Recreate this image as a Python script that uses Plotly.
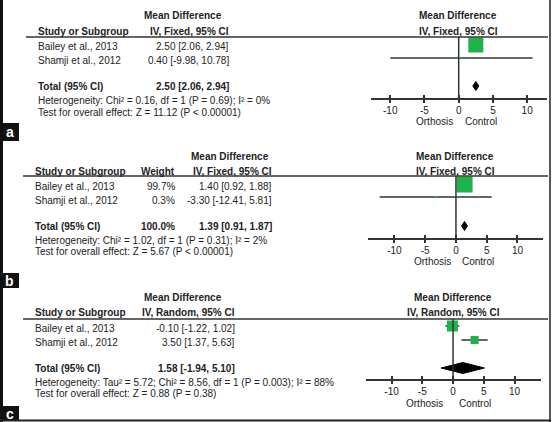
import plotly.graph_objects as go

# ---------------- data ----------------
studies = ["Bailey et al., 2013", "Shamji et al., 2012"]

a_md = [2.50, 0.40]
a_lo = [2.06, -9.98]
a_hi = [2.94, 10.78]
a_total = [2.50, 2.06, 2.94]
a_het = "Heterogeneity: Chi² = 0.16, df = 1 (P = 0.69); I² = 0%"
a_test = "Test for overall effect: Z = 11.12 (P < 0.00001)"

b_md = [1.40, -3.30]
b_lo = [0.92, -12.41]
b_hi = [1.88, 5.81]
b_weight = ["99.7%", "0.3%"]
b_total_weight = "100.0%"
b_total = [1.39, 0.91, 1.87]
b_het = "Heterogeneity: Chi² = 1.02, df = 1 (P = 0.31); I² = 2%"
b_test = "Test for overall effect: Z = 5.67 (P < 0.00001)"

c_md = [-0.10, 3.50]
c_lo = [-1.22, 1.37]
c_hi = [1.02, 5.63]
c_total = [1.58, -1.94, 5.10]
c_het = "Heterogeneity: Tau² = 5.72; Chi² = 8.56, df = 1 (P = 0.003); I² = 88%"
c_test = "Test for overall effect: Z = 0.88 (P = 0.38)"

tick_vals = [-10, -5, 0, 5, 10]
tick_text = ["-10", "-5", "0", "5", "10"]

# ---------------- layout helpers ----------------
W, H = 553, 422
FONT = "Liberation Sans, Arial, sans-serif"
TXT = "#222222"
LINE = "#333333"
GREEN = "#1db34a"


def px(x):
    return x / W


def py(y):
    return 1 - y / H


def fmt(md, lo, hi):
    return f"{md:.2f} [{lo:.2f}, {hi:.2f}]"


fig = go.Figure()
annotations = []
shapes = []


def text(x, y, s, anchor="left", bold=False, size=10, color=TXT):
    annotations.append(dict(
        x=px(x), y=py(y), xref="paper", yref="paper", text=(f"<b>{s}</b>" if bold else s),
        showarrow=False, xanchor=anchor, yanchor="middle",
        font=dict(family=FONT, size=size, color=color)))


def hline(x0, x1, y, width=1.5, color=LINE):
    shapes.append(dict(type="line", xref="paper", yref="paper", x0=px(x0), x1=px(x1),
                       y0=py(y), y1=py(y), line=dict(color=color, width=width)))


panels = [
    dict(key="a", xa="x", md=a_md, lo=a_lo, hi=a_hi, tot=a_total, het=a_het, test=a_test,
         weight=None, method="IV, Fixed, 95% CI",
         top=16, sub=31, hl=37, rows=[47, 60], mrows=[45, 58], trow=86, hrow=100, trow2=112,
         name_x=36, md_center=183, val_right=231, w_right=None,
         plot_center=458, axis_y=99, dom=(370.7, 546.7), rng=(-12.85, 12.85),
         orth=434, ctrl=481, oc_y=121, sizes=[15, 2], dh=4.5, lab=(123, 141)),
    dict(key="b", xa="x2", md=b_md, lo=b_lo, hi=b_hi, tot=b_total, het=b_het, test=b_test,
         weight=b_weight, method="IV, Fixed, 95% CI",
         top=156, sub=171, hl=176, rows=[186, 200], mrows=[184.5, 197], trow=226, hrow=240, trow2=252,
         name_x=33, md_center=230, val_right=274, w_right=177,
         plot_center=455, axis_y=239, dom=(368, 543), rng=(-14.3, 14.15),
         orth=432, ctrl=478, oc_y=261, sizes=[16, 2], dh=4.5, lab=(273, 288)),
    dict(key="c", xa="x3", md=c_md, lo=c_lo, hi=c_hi, tot=c_total, het=c_het, test=c_test,
         weight=None, method="IV, Random, 95% CI",
         top=297, sub=312, hl=319, rows=[328, 342], mrows=[326, 340], trow=368, hrow=382, trow2=393,
         name_x=33, md_center=183, val_right=237, w_right=None,
         plot_center=453, axis_y=380, dom=(366, 541), rng=(-14.15, 14.3),
         orth=424, ctrl=475, oc_y=403, sizes=[11, 8], dh=5.5, lab=(406, 421)),
]

layout_axes = {}
for i, p in enumerate(panels):
    xa = p["xa"]
    axname = "xaxis" if xa == "x" else "xaxis" + xa[1:]
    # headers
    text(p["md_center"], p["top"], "Mean Difference", "center", bold=True)
    text(p["name_x"], p["sub"], "Study or Subgroup", "left", bold=True)
    if p["w_right"]:
        text(p["w_right"], p["sub"], "Weight", "right", bold=True)
    text(p["val_right"], p["sub"], p["method"], "right", bold=True)
    text(p["plot_center"], p["top"], "Mean Difference", "center", bold=True)
    text(p["plot_center"], p["sub"], p["method"], "center", bold=True)
    hline(p["name_x"] - 10, 548, p["hl"])
    # study rows
    for j, s in enumerate(studies):
        text(p["name_x"], p["rows"][j], s, "left")
        if p["weight"]:
            text(p["w_right"], p["rows"][j], p["weight"][j], "right")
        text(p["val_right"], p["rows"][j], fmt(p["md"][j], p["lo"][j], p["hi"][j]), "right")
        # CI line
        fig.add_trace(go.Scatter(x=[p["lo"][j], p["hi"][j]], y=[p["mrows"][j]] * 2,
                                 mode="lines", line=dict(color=LINE, width=1.5),
                                 xaxis=xa, yaxis="y", showlegend=False, hoverinfo="skip"))
        # square
        fig.add_trace(go.Scatter(x=[p["md"][j]], y=[p["mrows"][j]], mode="markers",
                                 marker=dict(symbol="square", size=p["sizes"][j], color=GREEN,
                                             line=dict(width=0)),
                                 xaxis=xa, yaxis="y", showlegend=False, hoverinfo="skip"))
    # total
    text(p["name_x"], p["trow"], "Total (95% CI)", "left", bold=True)
    if p["w_right"]:
        text(p["w_right"], p["trow"], b_total_weight, "right", bold=True)
    text(p["val_right"], p["trow"], fmt(*p["tot"]), "right", bold=True)
    text(p["name_x"], p["hrow"], p["het"], "left")
    text(p["name_x"], p["trow2"], p["test"], "left")
    md, lo, hi = p["tot"]
    r, dh = p["trow"], p["dh"]
    fig.add_trace(go.Scatter(x=[lo, md, hi, md, lo], y=[r, r - dh, r, r + dh, r],
                             mode="lines", fill="toself", fillcolor="#000000",
                             line=dict(color="#000000", width=1),
                             xaxis=xa, yaxis="y", showlegend=False, hoverinfo="skip"))
    # zero line
    shapes.append(dict(type="line", xref=xa, yref="y", x0=0, x1=0, y0=p["hl"], y1=p["axis_y"],
                       line=dict(color=LINE, width=1.5)))
    # axis (inside ticks + labels) and overlay (outside ticks)
    layout_axes[axname] = dict(
        domain=[px(p["dom"][0]), px(p["dom"][1])], range=list(p["rng"]), anchor="free",
        position=py(p["axis_y"]), showline=True, linecolor=LINE, linewidth=1.5,
        ticks="inside", ticklen=3, tickwidth=1.5, tickcolor=LINE,
        tickvals=tick_vals, ticktext=tick_text, showgrid=False, zeroline=False,
        ticklabelstandoff=2,
        tickfont=dict(family=FONT, size=10, color=TXT), fixedrange=True)
    ov = "xaxis" + str(4 + i)
    layout_axes[ov] = dict(
        domain=[px(p["dom"][0]), px(p["dom"][1])], range=list(p["rng"]), anchor="free",
        overlaying=xa, position=py(p["axis_y"]), showline=False,
        ticks="outside", ticklen=3, tickwidth=1.5, tickcolor=LINE,
        tickvals=tick_vals, showticklabels=False, showgrid=False, zeroline=False,
        fixedrange=True)
    text(p["orth"], p["oc_y"], "Orthosis", "center")
    text(p["ctrl"], p["oc_y"], "Control", "center")
    # panel label
    y0, y1 = p["lab"]
    shapes.append(dict(type="rect", xref="paper", yref="paper", x0=0, x1=px(19),
                       y0=py(y1), y1=py(y0), fillcolor="#111111", line=dict(width=0)))
    text(9.5, (y0 + y1) / 2, p["key"], "center", bold=True, size=14, color="#ffffff")

# dummy traces on overlay axes so they render
for i in range(3):
    fig.add_trace(go.Scatter(x=[None], y=[None], xaxis="x" + str(4 + i), yaxis="y",
                             showlegend=False, hoverinfo="skip"))

# frame
shapes.append(dict(type="line", xref="paper", yref="paper", x0=px(1.5), x1=px(1.5), y0=0, y1=1,
                   line=dict(color="#111111", width=3)))
shapes.append(dict(type="line", xref="paper", yref="paper", x0=px(550), x1=px(550), y0=0, y1=1,
                   line=dict(color="#222222", width=1.5)))
shapes.append(dict(type="line", xref="paper", yref="paper", x0=0, x1=px(551), y0=py(420.5), y1=py(420.5),
                   line=dict(color="#222222", width=2)))

fig.update_layout(
    width=W, height=H, margin=dict(l=0, r=0, t=0, b=0),
    paper_bgcolor="white", plot_bgcolor="rgba(0,0,0,0)",
    yaxis=dict(domain=[0, 1], range=[H, 0], visible=False, fixedrange=True),
    annotations=annotations, shapes=shapes, showlegend=False,
    **layout_axes)

fig.write_html("out.html", config={"displayModeBar": False},
               post_script="document.body.style.margin='0';document.body.style.overflow='hidden';")
